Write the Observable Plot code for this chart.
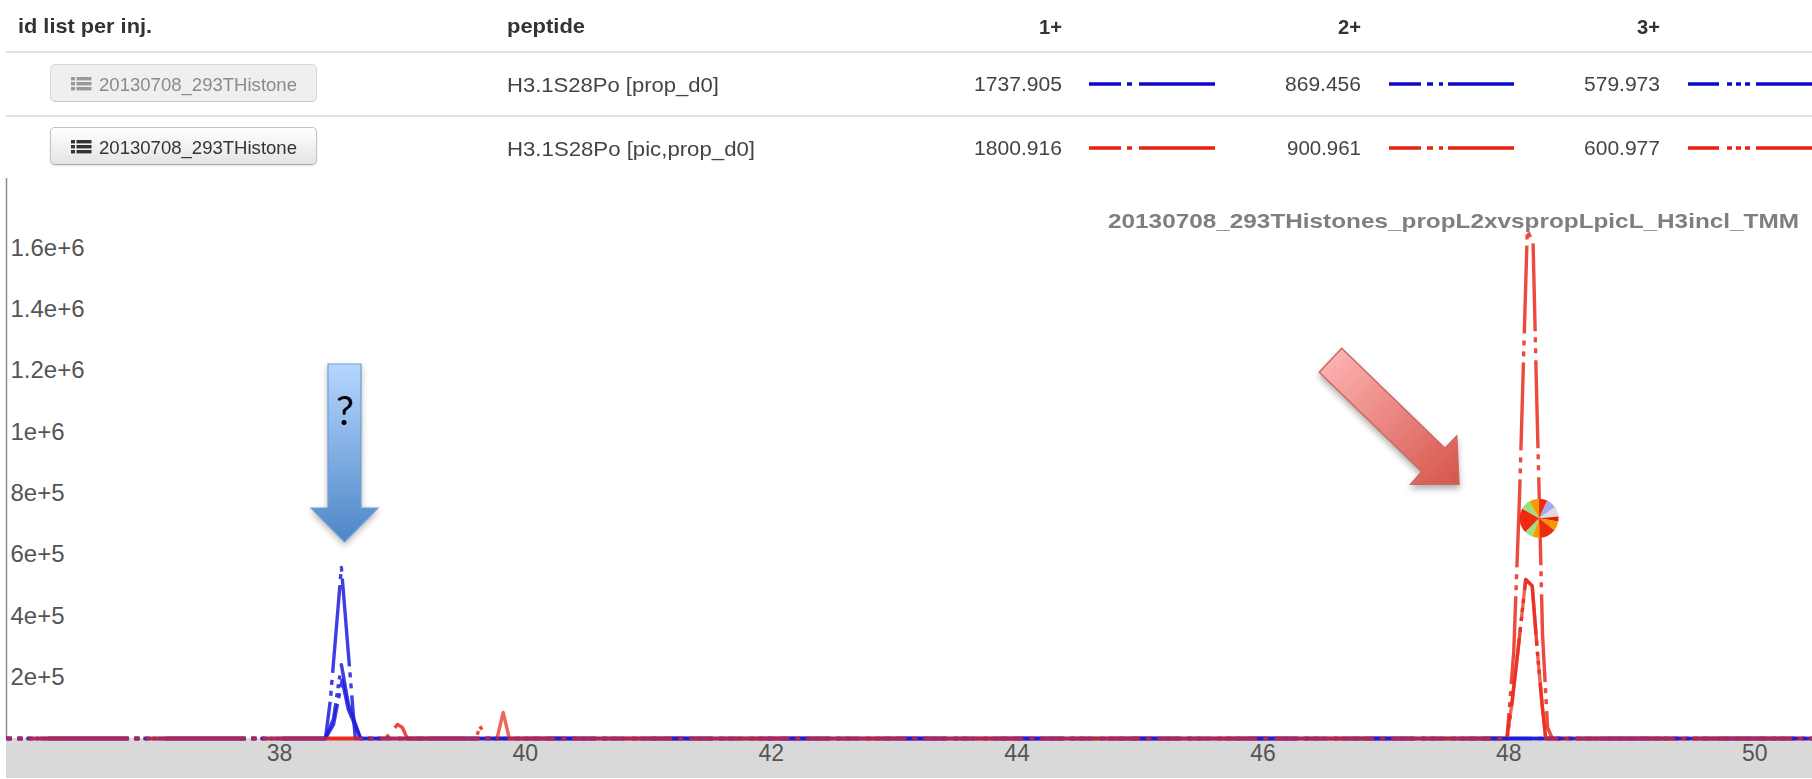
<!DOCTYPE html>
<html><head><meta charset="utf-8">
<script src="https://cdn.jsdelivr.net/npm/d3@7"></script>
<script src="https://cdn.jsdelivr.net/npm/@observablehq/plot@0.6"></script>
<style>
html,body{margin:0;padding:0;background:#fff;overflow:hidden}
#page{position:relative;width:1812px;height:779px;overflow:hidden;font-family:"Liberation Sans",Arial,sans-serif}
.t{position:absolute;white-space:nowrap;line-height:1;transform-origin:left center}
.rule{position:absolute;left:6px;right:0;height:2px;background:#e2e2e2}
.btn{position:absolute;left:50px;width:267px;height:38px;box-sizing:border-box;border:1px solid #c4c4c4;border-bottom-color:#aaa;border-radius:5px;background:linear-gradient(#ffffff,#e4e4e4);box-shadow:0 1px 2px rgba(0,0,0,.12)}
.btn.off{background:#e8e8e8;opacity:.65;box-shadow:none}
#band{position:absolute;left:6px;top:738px;width:1806px;height:40px;background:#d9d9d9}
#chart{position:absolute;left:0;top:178px}
#chart svg{background:transparent}
svg.sw{position:absolute;overflow:visible}
svg#notes{position:absolute;left:0;top:0;pointer-events:none}
</style></head><body><div id="page"><div id="band"></div></div>
<script>
// ---- table content ----
const headers = ["id list per inj.", "peptide", "1+", "2+", "3+"];
const buttonLabel = "20130708_293THistone";
const peptides = ["H3.1S28Po [prop_d0]", "H3.1S28Po [pic,prop_d0]"];
const massesBlue = ["1737.905", "869.456", "579.973"];
const massesRed = ["1800.916", "900.961", "600.977"];
const plotTitle = "20130708_293THistones_propL2xvspropLpicL_H3incl_TMM";
const blue = "#1c1cdc";
const red = "#ea2a1c";
const dash1 = "100,6,5,6";
const dash2 = "88,6,5,6,5,7";
const dash3 = "80,6,4,5,4,5,4,9";
const off1 = 95, off2 = 83, off3 = 75;
const swatchDashes = ["32,6,5,7,78,400", "32,6,6,6,4,5,68,400", "31,8,5,4,5,4,5,6,90,400"];

// ---- axes ----
const xDomain = [35.78, 50.47];
const yDomain = [0, 1.827e6];
const xTicks = [38, 40, 42, 44, 46, 48, 50];
const yTicks = [2e5, 4e5, 6e5, 8e5, 1e6, 1.2e6, 1.4e6, 1.6e6];

// ---- series (retention time, intensity) ----
const blue1x = [35.78, 38.374, 38.44, 38.51, 38.56, 38.66, 50.47];
const blue1y = [0, 0, 0.45e5, 1.9e5, 0.95e5, 0, 0];
const blue2x = [35.78, 38.374, 38.414, 38.504, 38.617, 50.47];
const blue2y = [0, 0, 1.24e5, 5.58e5, 0, 0];
const blue3x = [35.78, 38.374, 38.44, 38.504, 38.56, 38.66, 50.47];
const blue3y = [0, 0, 0.65e5, 2.41e5, 1.14e5, 0, 0];
const red1x = [35.78, 39.77, 39.82, 39.87, 47.985, 48.025, 48.08, 48.137, 48.19, 48.232, 48.27, 48.3, 50.47];
const red1y = [0, 0, 0.85e5, 0, 0, 1.14e5, 3.07e5, 5.19e5, 4.98e5, 2.84e5, 1.14e5, 0, 0];
const red2x = [35.78, 47.985, 48.04, 48.087, 48.15, 48.197, 48.225, 48.247, 48.274, 48.315, 48.353, 50.47];
const red2y = [0, 0, 2.84e5, 7.9e5, 1.657e6, 1.62e6, 1.139e6, 7.9e5, 3.4e5, 0.36e5, 0, 0];
const red3x = [35.78, 38.86, 38.91, 38.96, 39.0, 39.04, 39.6, 39.63, 39.68, 39.7, 47.985, 48.025, 48.08, 48.137, 48.19, 48.232, 48.27, 48.3, 50.47];
const red3y = [0, 0, 0.2e5, 0.46e5, 0.36e5, 0, 0, 0.4e5, 0.1e5, 0, 0, 1.14e5, 3.07e5, 5.19e5, 4.98e5, 2.84e5, 1.14e5, 0, 0];
const lineSeries = [
  [red3x, red3y, red, dash3, off3, 0.85], [red2x, red2y, red, dash2, off2, 0.85],
  [blue2x, blue2y, blue, dash2, off2, 0.85], [blue3x, blue3y, blue, dash3, off3, 0.85],
  [blue1x, blue1y, blue, dash1, off1, 0.85], [red1x, red1y, red, dash1, off1, 0.72]
];

// ---- pie at the identified peak ----
const pieAt = [48.25, 7.17e5];
const pieValues = [25, 30, 30, 15, 28, 50, 22, 25, 75, 30, 30];
const pieColors = ["#f02a10", "#a9a9f2", "#dcdcdc", "#e8200c", "#fb9500", "#f02a10", "#f59a08", "#9be07e", "#f02a10", "#9be07e", "#f59a08"];

const page = document.getElementById("page");

// text fitted to a measured width
function put(str, x, cy, w, size, opts = {}) {
  const d = document.createElement("div");
  d.className = "t"; d.textContent = str;
  d.style.fontSize = size + "px";
  d.style.color = opts.color || "#3a3a3a";
  if (opts.bold) d.style.fontWeight = "bold";
  if (opts.font) d.style.fontFamily = opts.font;
  d.style.zIndex = opts.z || 1;
  page.appendChild(d);
  const b = d.getBoundingClientRect();
  d.style.left = x + "px";
  d.style.top = (cy - b.height / 2) + "px";
  d.style.transform = `scaleX(${w / b.width})`;
  return d;
}
function rightPut(str, xr, cy, w, size, opts) { return put(str, xr - w, cy, w, size, opts); }

[52, 116].forEach(y => { const r = document.createElement("div"); r.className = "rule"; r.style.top = (y - 1) + "px"; page.appendChild(r); });

put(headers[0], 18, 25, 134, 21, {bold: true, color: "#333"});
put(headers[1], 507, 25, 78, 21, {bold: true, color: "#333"});
rightPut(headers[2], 1062, 26, 23, 21, {bold: true, color: "#333"});
rightPut(headers[3], 1361, 26, 23, 21, {bold: true, color: "#333"});
rightPut(headers[4], 1660, 26, 23, 21, {bold: true, color: "#333"});

const ns = "http://www.w3.org/2000/svg";
[[64, true], [127, false]].forEach(([top, off]) => {
  const b = document.createElement("div");
  b.className = "btn" + (off ? " off" : ""); b.style.top = top + "px";
  page.appendChild(b);
  const col = off ? "#999" : "#333";
  const ic = document.createElementNS(ns, "svg");
  ic.setAttribute("class", "sw");
  ic.setAttribute("width", 22); ic.setAttribute("height", 18);
  ic.style.left = "71px"; ic.style.top = (top + 12) + "px";
  [1, 6, 11].forEach(y => {
    ic.insertAdjacentHTML("beforeend", `<rect x="0" y="${y}" width="4" height="3.4" fill="${col}"/><rect x="5.5" y="${y}" width="15" height="3.4" fill="${col}"/>`);
  });
  page.appendChild(ic);
  put(buttonLabel, 99, top + 20, 198, 19, {color: off ? "#8a8a8a" : "#333", z: 2});
});

put(peptides[0], 507, 84, 212, 21, {color: "#444"});
put(peptides[1], 507, 148, 248, 21, {color: "#444"});

const mr = [1062, 1361, 1660];
const mw = [[88, 76, 76], [88, 74, 76]];
const swx = [[1089, 1215], [1389, 1514], [1688, 1814]];
[[massesBlue, 84, "#0a0ac8", 0], [massesRed, 148, "#e8220c", 1]].forEach(([ms, y, col, k]) => {
  ms.forEach((m, i) => {
    rightPut(m, mr[i], y, mw[k][i], 20, {color: "#444"});
    const s = document.createElementNS(ns, "svg");
    s.setAttribute("class", "sw");
    s.setAttribute("width", swx[i][1] - swx[i][0]); s.setAttribute("height", 6);
    s.style.left = swx[i][0] + "px"; s.style.top = (y - 3) + "px";
    s.innerHTML = `<line x1="0" y1="3" x2="${swx[i][1] - swx[i][0]}" y2="3" stroke="${col}" stroke-width="3.4" stroke-dasharray="${swatchDashes[i]}"/>`;
    page.appendChild(s);
  });
});

put(plotTitle, 1108, 220, 691, 21, {bold: true, color: "#7f7f7f"});

// ---- chart ----
function pieMark(index, scales) {
  const g = d3.create("svg:g").attr("transform", `translate(${scales.x(pieAt[0])},${scales.y(pieAt[1])})`);
  const arcs = d3.pie().sort(null)(pieValues);
  const arc = d3.arc().innerRadius(0).outerRadius(19.5);
  g.selectAll("path").data(arcs).join("path")
    .attr("d", arc).attr("fill", (d, i) => pieColors[i]);
  return g.node();
}

const chart = Plot.plot({
  width: 1812, height: 601,
  marginLeft: 6, marginRight: 0, marginTop: 0, marginBottom: 41,
  x: {domain: xDomain},
  y: {domain: yDomain},
  style: {fontFamily: "'Liberation Sans',Arial,sans-serif", background: "transparent"},
  marks: [
    Plot.ruleX([xDomain[0]], {stroke: "#8c8c8c", strokeWidth: 1.5}),
    Plot.axisX({ticks: xTicks, tickSize: 0, tickPadding: 6, fontSize: 23, color: "#555", label: null}),
    Plot.axisY({ticks: yTicks, anchor: "left", tickSize: 0, tickPadding: -4, textAnchor: "start", fontSize: 24, color: "#555", label: null, tickFormat: d3.format(".2~e")}),
    ...lineSeries.map(([xs, ys, col, da, off, op]) => Plot.line(xs.map((x, i) => ({x, y: ys[i]})), {
      x: "x", y: "y", stroke: col, strokeWidth: 3.4, strokeOpacity: op,
      strokeDasharray: da, strokeDashoffset: off, strokeLinecap: "butt"
    })),
    pieMark
  ]
});
const holder = document.createElement("div");
holder.id = "chart"; holder.style.zIndex = 3;
holder.appendChild(chart);
page.appendChild(holder);

// ---- callout arrows drawn over the chart ----
const notes = document.createElementNS(ns, "svg");
notes.id = "notes";
notes.setAttribute("width", 1812); notes.setAttribute("height", 779);
notes.style.zIndex = 4;
notes.innerHTML = `
<defs>
<linearGradient id="gb" x1="0" y1="0" x2="0" y2="1"><stop offset="0" stop-color="#b6d6ff"/><stop offset="1" stop-color="#4d86c6"/></linearGradient>
<linearGradient id="gr" x1="0" y1="0" x2="1" y2="1"><stop offset="0" stop-color="#ffb9b9"/><stop offset="1" stop-color="#d5554b"/></linearGradient>
</defs>
<path d="M328,364H361V508H378L344.5,542L311,508H328Z" fill="url(#gb)" stroke="#6fa0d6" stroke-width="1.2" style="filter:drop-shadow(0 3px 3px rgba(0,0,0,.28))"/>
<path d="M1341.7,348.3L1319.3,372.3L1421.7,471.7L1410.7,484.3H1459L1456.7,436L1445,448.3Z" fill="url(#gr)" stroke="#c86a62" stroke-width="1.5" style="filter:drop-shadow(0 4px 3px rgba(0,0,0,.3))"/>
<text x="345" y="425" text-anchor="middle" font-family="Lato,'Open Sans',sans-serif" font-size="40" fill="#000">?</text>`;
page.appendChild(notes);
</script></body></html>
